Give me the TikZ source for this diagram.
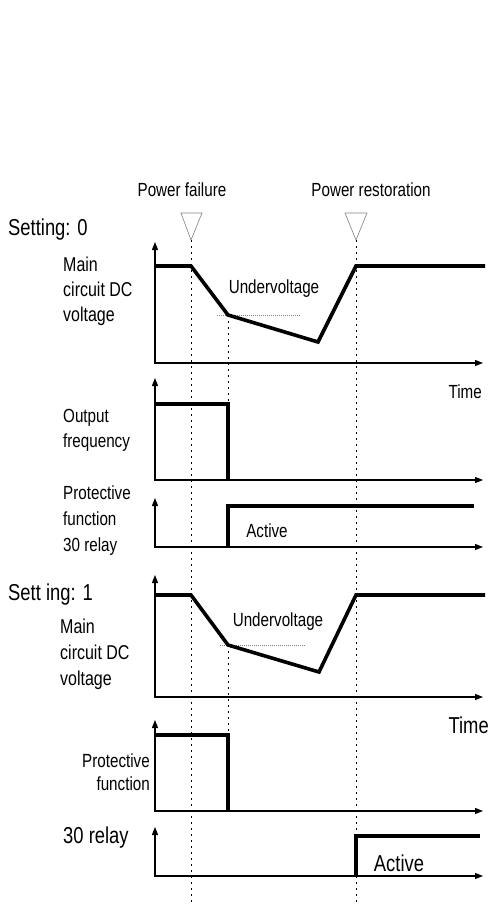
\documentclass[tikz,border=0pt]{standalone}
\usepackage{fontspec}
\setmainfont{Liberation Sans}[FakeStretch=0.8]
\usepackage{tikz}
\usetikzlibrary{arrows.meta}
\tikzset{
  axis/.style={line width=1.2pt,
               {Triangle[length=8pt,width=6pt]}-{Triangle[length=8pt,width=6pt]}},
  signal/.style={line width=3.6pt,line join=miter,line cap=butt},
  guide/.style={line width=1pt,dash pattern=on 2pt off 4pt},
  thresh/.style={gray,line width=0.6pt,dash pattern=on 1pt off 1pt},
  marker/.style={draw=gray,line width=0.6pt},
  lbl/.style={font=\fontsize{19}{25}\selectfont,align=left,inner sep=0pt},
  lblbig/.style={lbl,font=\fontsize{23}{26}\selectfont},
}

\begin{document}
\begin{tikzpicture}[x=1pt,y=-1pt]
  \useasboundingbox (0,0) rectangle (490,905);
  % event markers
  \coordinate (fail) at (191,240);
  \coordinate (rest) at (356,240);
  \node[lbl](pf) at (182,190){Power failure};
  \node[lbl](pr) at (371,190){Power restoration};
  \draw[marker] (181,213) -- (202,213) -- (fail) -- cycle;
  \draw[marker] (345,213) -- (367,213) -- (rest) -- cycle;
  \draw[guide] (fail) -- (191,903);
  \draw[guide] (rest) -- (356,903);
  \draw[guide] (228,315) -- (228,404);
  \draw[guide] (228,645) -- (228,735);
  % axes
  \foreach \top/\base in {242/363,378/480,498/547,575/697,720/811,827/876}
    \draw[axis] (155,\top) |- (483,\base);
  % setting 0
  \node[lblbig,anchor=west](set0) at (8,230){Setting: 0};
  \node[lbl,anchor=west,font=\fontsize{20}{25}\selectfont](vlab0) at (63,291){Main\\circuit DC\\voltage};
  \node[lbl](uv0) at (274,289){Undervoltage};
  \draw[thresh] (217,315) -- (301,315);
  \draw[signal] (155,266) -- (191,266) -- (228,315) -- (318,342) -- (356,266) -- (485,266);
  \node[lbl,anchor=east](time0) at (482,392){Time};
  \node[lbl,anchor=west](flab) at (63,430){Output\\frequency};
  \draw[signal] (155,404) -- (228,404) -- (228,480);
  \node[lbl,anchor=west,font=\fontsize{19}{26}\selectfont](plab0) at (63,521){Protective\\function\\30 relay};
  \node[lbl](act0) at (267,531){Active};
  \draw[signal] (228,547) -- (228,506) -- (474,506);
  % setting 1
  \node[lblbig,anchor=west](set1) at (8,595){Sett ing: 1};
  \node[lbl,anchor=west,font=\fontsize{20}{26}\selectfont](vlab1) at (60,654){Main\\circuit DC\\voltage};
  \node[lbl](uv1) at (278,622){Undervoltage};
  \draw[thresh] (220,645) -- (305,645);
  \draw[signal] (155,595) -- (191,595) -- (228,645) -- (319,672) -- (356,595) -- (485,595);
  \node[lblbig,anchor=east](time1) at (489,725){Time};
  \node[lbl,anchor=east,align=right,font=\fontsize{19}{23}\selectfont](plab1) at (150,772){Protective\\function};
  \draw[signal] (155,735) -- (228,735) -- (228,811);
  \node[lblbig,anchor=west](rlab1) at (63,838){30 relay};
  \node[lblbig](act1) at (399,863){Active};
  \draw[signal] (356,876) -- (356,836) -- (480,836);
\end{tikzpicture}
\end{document}
